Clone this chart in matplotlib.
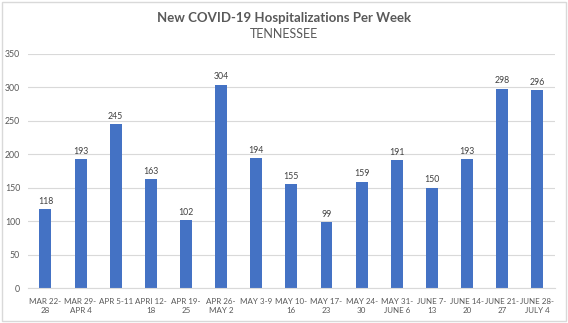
import matplotlib.pyplot as plt
from matplotlib.patches import Rectangle

plt.rcParams['font.family'] = ['Lato', 'DejaVu Sans']

weeks = ['MAR 22-\n28', 'MAR 29-\nAPR 4', 'APR 5-11', 'APRI 12-\n18', 'APR 19-\n25',
         'APR 26-\nMAY 2', 'MAY 3-9', 'MAY 10-\n16', 'MAY 17-\n23', 'MAY 24-\n30',
         'MAY 31-\nJUNE 6', 'JUNE 7-\n13', 'JUNE 14-\n20', 'JUNE 21-\n27', 'JUNE 28-\nJULY 4']
hospitalizations = [118, 193, 245, 163, 102, 304, 194, 155, 99, 159, 191, 150, 193, 298, 296]
yticks = [0, 50, 100, 150, 200, 250, 300, 350]

bar_color = '#4472C4'
text_gray = '#595959'

fig = plt.figure(figsize=(5.68, 3.23), dpi=100)
ax = fig.add_axes([0.049, 0.108, 0.928, 0.725])

x = range(len(weeks))
bars = ax.bar(x, hospitalizations, width=0.34, color=bar_color, zorder=2)
for b, v in zip(bars, hospitalizations):
    ax.text(b.get_x() + b.get_width() / 2, v + 5, str(v), ha='center', va='bottom',
            fontsize=6.3, color='#404040')

ax.set_xlim(-0.5, len(weeks) - 0.5)
ax.set_ylim(0, 350)
ax.set_yticks(yticks)
ax.set_xticks(list(x))
ax.set_xticklabels(weeks, fontsize=5.8, color=text_gray, linespacing=1.35)
ax.tick_params(axis='y', labelsize=6.3, labelcolor=text_gray, length=0, pad=5.5)
ax.tick_params(axis='x', length=0, pad=7)
ax.grid(axis='y', color='#D9D9D9', linewidth=0.8, zorder=0)
for s in ['top', 'right', 'left']:
    ax.spines[s].set_visible(False)
ax.spines['bottom'].set_color('#D9D9D9')

fig.text(0.5, 0.945, 'New COVID-19 Hospitalizations Per Week', ha='center', va='center',
         fontsize=9.5, fontweight='bold', color=text_gray)
fig.text(0.5, 0.895, 'TENNESSEE', ha='center', va='center', fontsize=9, color=text_gray)

fig.patches.append(Rectangle((0.003, 0.005), 0.994, 0.99, transform=fig.transFigure,
                             fill=False, edgecolor='#D9D9D9', linewidth=1))

fig.savefig('out.png', dpi=100)
